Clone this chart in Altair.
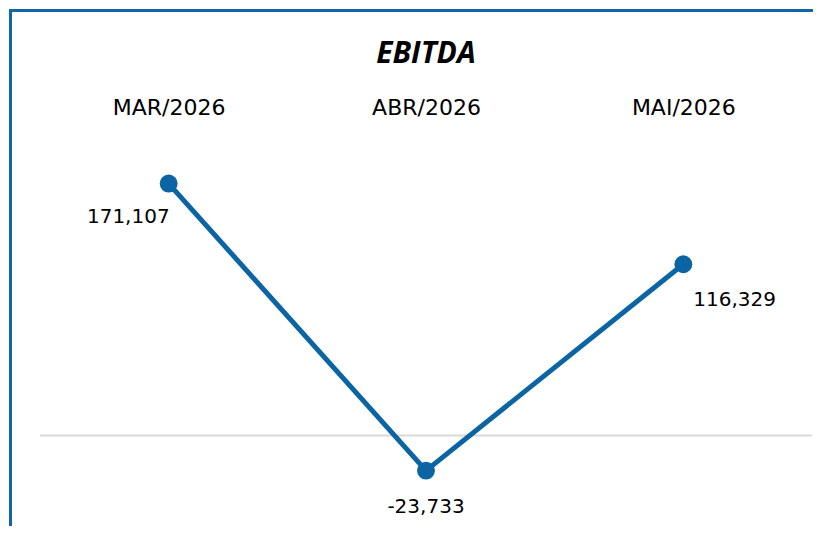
import altair as alt
import pandas as pd

months = ["MAR/2026", "ABR/2026", "MAI/2026"]
ebitda = [171107, -23733, 116329]
labels = ["171,107", "-23,733", "116,329"]
title_text = "EBITDA"

df = pd.DataFrame({"month": months, "value": ebitda, "label": labels})

BLUE = "#0b64a3"
FONT = "DejaVu Sans"
DOMAIN = [-60000, 200000]

x = alt.X("month:N", sort=months, scale=alt.Scale(paddingInner=0, paddingOuter=0.5),
          axis=alt.Axis(orient="top", title=None, ticks=False, domain=False, grid=False,
                        labelAngle=0, labelFontSize=22, labelFont=FONT, labelColor="#000000",
                        labelPadding=22))
y = alt.Y("value:Q", scale=alt.Scale(domain=DOMAIN, nice=False, zero=False), axis=None)

base = alt.Chart(df)

zero = alt.Chart(pd.DataFrame({"z": [0]})).mark_rule(color="#d9d9d9", strokeWidth=2).encode(
    y=alt.Y("z:Q", scale=alt.Scale(domain=DOMAIN, nice=False, zero=False), axis=None))

line = base.mark_line(color=BLUE, strokeWidth=5).encode(x=x, y=y)
pts = base.mark_point(filled=True, color=BLUE, opacity=1, size=320, shape="circle").encode(x=x, y=y)

txt_common = dict(fontSize=20, font=FONT, color="#000000", baseline="middle")
t1 = base.transform_filter(alt.datum.month == "MAR/2026").mark_text(align="right", dx=1, dy=33, **txt_common).encode(x=x, y=y, text="label:N")
t2 = base.transform_filter(alt.datum.month == "ABR/2026").mark_text(align="center", dx=0, dy=36, **txt_common).encode(x=x, y=y, text="label:N")
t3 = base.transform_filter(alt.datum.month == "MAI/2026").mark_text(align="left", dx=10, dy=36, **txt_common).encode(x=x, y=y, text="label:N")

title = alt.Chart(pd.DataFrame({"t": [title_text]})).mark_text(
    font="Open Sans", fontSize=30, fontWeight="bold", fontStyle="italic", color="#000000",
    align="center", baseline="middle").encode(x=alt.value(386), y=alt.value(-87), text="t:N")

border_left = alt.Chart(pd.DataFrame({"a": [0]})).mark_rule(color="#1166a8", strokeWidth=3).encode(
    x=alt.value(-29.5), y=alt.value(-130.5), y2=alt.value(400))
border_top = alt.Chart(pd.DataFrame({"a": [0]})).mark_rule(color="#1166a8", strokeWidth=3).encode(
    x=alt.value(-31), x2=alt.value(800), y=alt.value(-130.5))

chart = alt.layer(zero, line, pts, t1, t2, t3, title, border_left, border_top).properties(
    width=772, height=383,
    background="white",
    autosize=alt.AutoSizeParams(type="none"),
    padding={"left": 32, "top": 133, "right": 1, "bottom": 2},
).configure_view(stroke=None, strokeWidth=0)

chart.save("out.html", embed_options={"renderer": "svg", "actions": False})
